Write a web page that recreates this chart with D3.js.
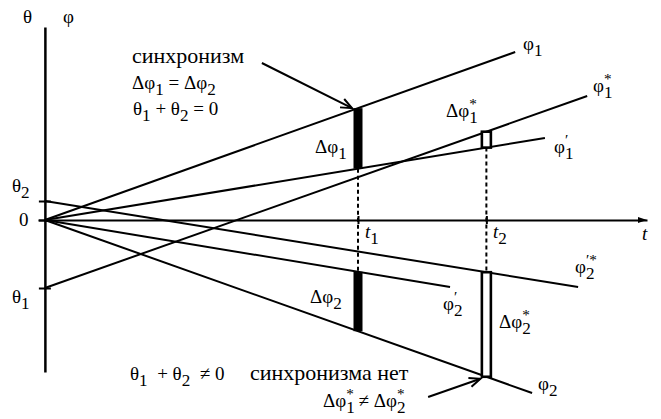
<!DOCTYPE html>
<html>
<head>
  <meta charset="UTF-8">
  <script src="https://d3js.org/d3.v7.min.js"></script>
  <style>
    svg text, svg tspan { font-family: "Liberation Serif", Tinos, "Times New Roman", serif; }
  </style>
</head>
<body style="margin:0">
<script>
  // time marks (t1 = 1 unit)
  const T1 = 1, T2 = 1.41;
  // initial phases on the vertical axis
  const thetaValues = [-0.68, 0.19];
  // phase lines: start value at t=0, end point
  const lineIds = ["phi1", "phi1p", "phi1s", "phi2", "phi2p", "phi2ps"];
  const lineStart = [0, 0, -0.68, 0, 0, 0.19];
  const lineEndT = [1.502, 1.597, 1.732, 1.556, 1.294, 1.703];
  const lineEndPhi = [1.68, 0.82, 1.24, -1.73, -0.67, -0.67];
  // phase differences: time, upper line, lower line, filled
  const diffT = [T1, T1, T2, T2];
  const diffTop = ["phi1", "phi2p", "phi1s", "phi2ps"];
  const diffBottom = ["phi1p", "phi2", "phi1p", "phi2"];
  const diffFilled = [true, true, false, false];

  const W = 661, H = 419;
  const FONT = '"Liberation Serif", Tinos, "Times New Roman", serif';
  const svg = d3.select("body").append("svg").attr("width", W).attr("height", H)
    .attr("font-family", FONT);

  const x = d3.scaleLinear().domain([-0.022, 1.923]).range([38, 647]);
  const y = d3.scaleLinear().domain([-1.52, 1.93]).range([372, 27]);

  const lines = lineIds.map((id, i) => ({
    id, t0: 0, p0: lineStart[i], t1: lineEndT[i], p1: lineEndPhi[i]
  }));
  const byId = Object.fromEntries(lines.map(l => [l.id, l]));
  const at = (id, t) => { const l = byId[id]; return l.p0 + (l.p1 - l.p0) * (t - l.t0) / (l.t1 - l.t0); };

  // axes (tick labels are drawn by hand below)
  const yAxis = d3.axisLeft(y).tickValues([0, ...thetaValues]).tickFormat("").tickSize(6).tickSizeOuter(0);
  svg.append("g").attr("transform", `translate(${x(0)},0)`).call(yAxis)
    .attr("font-family", null)
    .call(g => g.selectAll("text").remove())
    .call(g => g.select(".domain").attr("stroke-width", 2.5))
    .call(g => g.selectAll(".tick line").attr("stroke-width", 2).attr("x2", 6).attr("x1", -6));

  const xAxis = d3.axisBottom(x).tickValues([T1, T2]).tickFormat("").tickSize(4).tickSizeOuter(0);
  svg.append("g").attr("transform", `translate(0,${y(0)})`).call(xAxis)
    .attr("font-family", null)
    .call(g => g.selectAll("text").remove())
    .call(g => g.select(".domain").attr("stroke-width", 2))
    .call(g => g.selectAll(".tick line").attr("stroke-width", 2).attr("y1", -4));
  svg.append("path")
    .attr("d", `M${x(1.923)},${y(0)} l-9,-3 l0,6 z`)
    .attr("fill", "#000");

  // phase lines
  svg.append("g").selectAll("line").data(lines).join("line")
    .attr("x1", d => x(d.t0)).attr("y1", d => y(d.p0))
    .attr("x2", d => x(d.t1)).attr("y2", d => y(d.p1))
    .attr("stroke", "#000").attr("stroke-width", 2);

  // dashed verticals at t1, t2
  const dash = [[T1, at("phi1p", T1), at("phi2p", T1)], [T2, at("phi1p", T2), at("phi2ps", T2)]];
  svg.append("g").selectAll("line").data(dash).join("line")
    .attr("x1", d => x(d[0])).attr("x2", d => x(d[0]))
    .attr("y1", d => y(d[1])).attr("y2", d => y(d[2]))
    .attr("stroke", "#000").attr("stroke-width", 2).attr("stroke-dasharray", "4,3");

  // phase-difference bars
  const bars = diffT.map((t, i) => ({ t, top: at(diffTop[i], t), bot: at(diffBottom[i], t), filled: diffFilled[i] }));
  svg.append("g").selectAll("rect").data(bars).join("rect")
    .attr("x", d => x(d.t) - 4.5).attr("width", 9)
    .attr("y", d => y(d.top)).attr("height", d => y(d.bot) - y(d.top))
    .attr("fill", d => d.filled ? "#000" : "#fff")
    .attr("stroke", "#000").attr("stroke-width", d => d.filled ? 0 : 2.6);

  // arrows
  function arrow(x1, y1, x2, y2) {
    svg.append("line").attr("x1", x1).attr("y1", y1).attr("x2", x2).attr("y2", y2)
      .attr("stroke", "#000").attr("stroke-width", 2);
    const a = Math.atan2(y2 - y1, x2 - x1), L = 12, s = 0.4;
    svg.append("path")
      .attr("d", `M${x2 - L * Math.cos(a - s)},${y2 - L * Math.sin(a - s)} L${x2},${y2} L${x2 - L * Math.cos(a + s)},${y2 - L * Math.sin(a + s)}`)
      .attr("fill", "none").attr("stroke", "#000").attr("stroke-width", 2);
  }
  arrow(x(0.693), y(1.57), x(T1) - 6, y(at("phi1", T1)));
  arrow(x(1.224), y(-1.77), x(T2) - 6, y(at("phi2", T2)) + 2);

  // labels built from tspans: parts = [base, sub, sup]
  function label(x0, y0, parts, size, italic) {
    const t = svg.append("text").attr("x", x0).attr("y", y0)
      .attr("font-family", FONT).attr("font-size", size).attr("fill", "#000");
    if (italic) t.attr("font-style", "italic");
    parts.forEach(([b, sub, sup]) => {
      t.append("tspan").attr("y", y0).attr("font-size", size).text(b.replace(/ /g, "\u00A0"));
      if (sub) t.append("tspan").attr("y", y0 + size * 0.32).attr("font-size", size * 0.9)
        .attr("font-style", "normal").text(sub);
      if (sup) t.append("tspan").attr("y", y0 - size * 0.42).attr("font-size", size * 0.8)
        .attr("font-style", "normal")
        .attr("dx", sub ? -size * 0.45 * sub.length : 0).text(sup);
    });
    return t;
  }
  const M = 19, C = 22;
  label(23, 23, [["θ"]], M);
  label(63, 23, [["φ"]], M);
  label(19, 226, [["0"]], M);
  label(12, 192, [["θ", "2"]], M);
  label(12, 303, [["θ", "1"]], M);

  label(132, 63, [["синхронизм"]], C);
  label(132, 89, [["Δφ", "1"], [" = Δφ", "2"]], M);
  label(133, 115, [["θ", "1"], [" + θ", "2"], [" = 0"]], M);

  label(315, 153, [["Δφ", "1"]], M);
  label(446, 117, [["Δφ", "1", "*"]], M);
  label(523, 50, [["φ", "1"]], M);
  label(593, 92, [["φ", "1", "*"]], M);
  label(554, 153, [["φ", "1", "′"]], M);
  label(642, 240, [["t"]], M, true);
  label(365, 238, [["t", "1"]], M, true);
  label(493, 238, [["t", "2"]], M, true);
  label(575, 273, [["φ", "2", "′*"]], M);
  label(310, 303, [["Δφ", "2"]], M);
  label(443, 310, [["φ", "2", "′"]], M);
  label(499, 328, [["Δφ", "2", "*"]], M);
  label(538, 390, [["φ", "2"]], M);
  label(130, 380, [["θ", "1"], ["  + θ", "2"], ["  ≠ 0"]], M);
  label(250, 380, [["синхронизма нет"]], C);
  label(323, 407, [["Δφ", "1", "*"], [" ≠ Δφ", "2", "*"]], M);
</script>
</body>
</html>
